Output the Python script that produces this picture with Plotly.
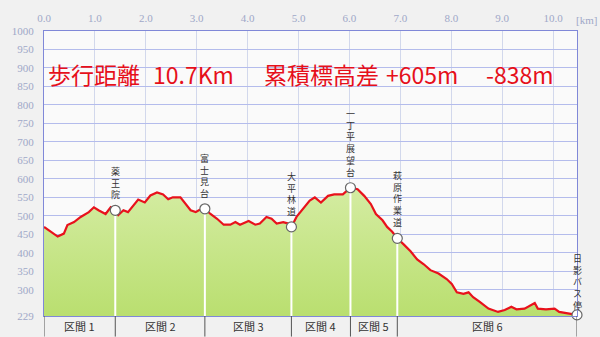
import plotly.graph_objects as go

# ---------------- data ----------------
km = [0.00, 0.14, 0.27, 0.39, 0.46, 0.59, 0.72, 0.88, 0.98, 1.07, 1.21, 1.31, 1.40, 1.46,
      1.56, 1.65, 1.76, 1.85, 1.98, 2.09, 2.22, 2.34, 2.44, 2.53, 2.68, 2.78, 2.88, 2.98,
      3.04, 3.16, 3.27, 3.40, 3.53, 3.66, 3.76, 3.85, 4.02, 4.15, 4.24, 4.37, 4.47, 4.57,
      4.70, 4.80, 4.86, 4.96, 5.09, 5.22, 5.32, 5.44, 5.58, 5.70, 5.87, 6.02, 6.16, 6.29,
      6.42, 6.52, 6.65, 6.74, 6.84, 6.94, 7.07, 7.20, 7.33, 7.46, 7.59, 7.75, 7.91, 8.01,
      8.11, 8.24, 8.34, 8.43, 8.56, 8.73, 8.92, 9.05, 9.18, 9.28, 9.44, 9.57, 9.64, 9.70,
      9.86, 10.03, 10.12, 10.29, 10.47]
elev = [470, 457, 444, 452, 475, 483, 497, 510, 523, 515, 505, 523, 515, 502,
        515, 510, 528, 544, 536, 555, 563, 558, 545, 550, 550, 532, 515, 510,
        515, 519, 505, 492, 476, 476, 483, 476, 486, 476, 479, 497, 492, 479,
        483, 479, 470, 497, 519, 541, 550, 536, 554, 558, 558, 576, 572, 554,
        532, 505, 488, 470, 457, 439, 422, 404, 382, 369, 353, 344, 329, 316,
        293, 289, 293, 280, 267, 249, 240, 245, 254, 247, 249, 258, 264, 249,
        247, 249, 240, 236, 232]

wp_names = ["薬王院", "富士見台", "大平林道", "一丁平展望台", "萩原作業道", "日影バス停"]
wp_km = [1.40, 3.16, 4.86, 6.02, 6.94, 10.47]
wp_elev = [515, 519, 470, 576, 439, 232]

sections = ["区間 1", "区間 2", "区間 3", "区間 4", "区間 5", "区間 6"]

x_ticks = [0, 1, 2, 3, 4, 5, 6, 7, 8, 9, 10]
x_tick_text = ["0.0", "1.0", "2.0", "3.0", "4.0", "5.0", "6.0", "7.0", "8.0", "9.0", "10.0"]
y_ticks = [229, 300, 350, 400, 450, 500, 550, 600, 650, 700, 750, 800, 850, 900, 950, 1000]

title_parts = ["歩行距離", "10.7Km", "累積標高差", "+605m", "-838m"]

# ---------------- layout constants ----------------
W, H = 600, 337
ML, MR, MT, MB = 40, 23, 25, 21
PW, PH = W - ML - MR, H - MT - MB
X_RANGE = [0, 10.47]
Y_RANGE = [229, 1000]

def px_x(p):
    return (p - ML) / PW

def px_y(p):
    return (H - MB - p) / PH

fig = go.Figure()

# filled area
fig.add_trace(go.Scatter(
    x=km, y=elev, mode="lines", fill="tozeroy",
    line=dict(width=0, color="rgba(0,0,0,0)"),
    fillgradient=dict(type="vertical",
                      colorscale=[[0, "#a8d64e"], [1, "#d4eca2"]]),
    hoverinfo="skip", showlegend=False))

# white drop lines from waypoints
dx, dy = [], []
for k, e in zip(wp_km, wp_elev):
    dx += [k, k, None]
    dy += [Y_RANGE[0], e, None]
fig.add_trace(go.Scatter(x=dx, y=dy, mode="lines",
                         line=dict(color="white", width=2),
                         hoverinfo="skip", showlegend=False))

# elevation line
fig.add_trace(go.Scatter(x=km, y=elev, mode="lines",
                         line=dict(color="#e8121c", width=2.2),
                         showlegend=False))

# waypoint markers
fig.add_trace(go.Scatter(x=wp_km, y=wp_elev, mode="markers",
                         marker=dict(size=10, color="white",
                                     line=dict(color="#666666", width=1.2)),
                         cliponaxis=False, showlegend=False))

annotations = []
# vertical waypoint labels (one character per line, one text per label)
for i, (name, k, e) in enumerate(zip(wp_names, wp_km, wp_elev)):
    shift = 2 if i == len(wp_names) - 1 else 8
    annotations.append(dict(
        x=k, y=e, xref="x", yref="y", text="<br>".join(name), showarrow=False,
        xanchor="center", yanchor="bottom", yshift=shift, borderpad=0,
        font=dict(family="Noto Sans CJK JP", size=9, color="#333333")))

# title pieces
title_px = [42, 148, 260, 383, 483]
for t, p in zip(title_parts, title_px):
    annotations.append(dict(
        x=px_x(p), y=px_y(69), xref="paper", yref="paper", text=t,
        showarrow=False, xanchor="left", yanchor="middle",
        font=dict(family="Noto Sans CJK JP", size=23, color="#e60f1a")))

# km unit label
annotations.append(dict(
    x=px_x(587), y=px_y(14), xref="paper", yref="paper", text="[km]",
    showarrow=False, xanchor="center", yanchor="middle",
    font=dict(family="Liberation Serif", size=11, color="#a0a8c8")))

# section bar
bounds = [X_RANGE[0]] + wp_km
shapes = []
for b in bounds:
    shapes.append(dict(type="line", xref="x", yref="paper",
                       x0=b, x1=b, y0=-MB / PH, y1=0,
                       line=dict(color="#555555", width=1)))
for s, a, b in zip(sections, bounds[:-1], bounds[1:]):
    annotations.append(dict(
        x=(a + b) / 2, y=-10.5 / PH, xref="x", yref="paper", text=s,
        showarrow=False, xanchor="center", yanchor="middle",
        font=dict(family="Noto Sans CJK JP", size=11, color="#333333")))

fig.update_layout(
    width=W, height=H,
    margin=dict(l=ML, r=MR, t=MT, b=MB, pad=0),
    paper_bgcolor="#f1f1f1", plot_bgcolor="#fafafa",
    annotations=annotations, shapes=shapes,
    xaxis=dict(range=X_RANGE, side="top", tickvals=x_ticks, ticktext=x_tick_text,
               showgrid=True, gridcolor="#d2d8ec", gridwidth=1,
               zeroline=False, showline=True, mirror=True,
               linecolor="#8088d8", linewidth=1, ticks="",
               ticklabelstandoff=4,
               tickfont=dict(family="Liberation Serif", size=11, color="#a0a8c8")),
    yaxis=dict(range=Y_RANGE, tickvals=y_ticks,
               showgrid=True, gridcolor="#b4bcec", gridwidth=1,
               zeroline=False, showline=True, mirror=True,
               linecolor="#8088d8", linewidth=1, ticks="",
               ticklabelstandoff=7,
               tickfont=dict(family="Liberation Serif", size=11, color="#a0a8c8")),
)

fig.write_html("out.html")
